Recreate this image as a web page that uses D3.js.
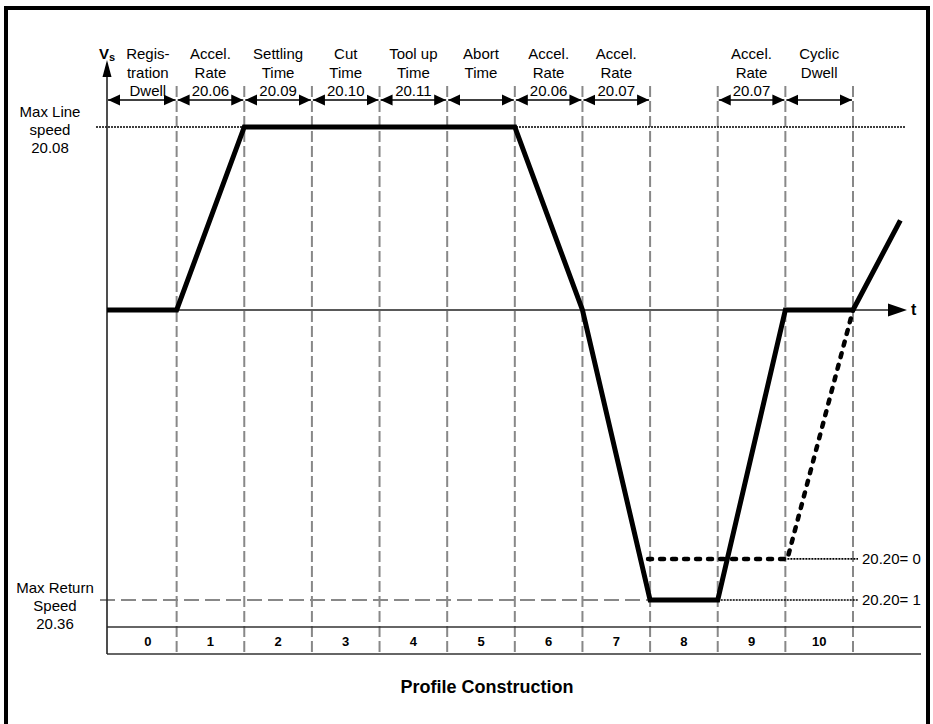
<!DOCTYPE html>
<html>
<head>
<meta charset="utf-8">
<script src="https://cdn.jsdelivr.net/npm/d3@7"></script>
<style>
  body { margin: 0; background: #fff; }
  svg { display: block; font-family: "Liberation Sans", Arial, sans-serif; }
</style>
</head>
<body>
<div id="chart"></div>
<script>
// segments of the profile (time slots 0..10)
var segments = [0, 1, 2, 3, 4, 5, 6, 7, 8, 9, 10];
var segLabels = [
    ["Regis-", "tration", "Dwell"],
    ["Accel.", "Rate", "20.06"],
    ["Settling", "Time", "20.09"],
    ["Cut", "Time", "20.10"],
    ["Tool up", "Time", "20.11"],
    ["Abort", "Time"],
    ["Accel.", "Rate", "20.06"],
    ["Accel.", "Rate", "20.07"],
    [],
    ["Accel.", "Rate", "20.07"],
    ["Cyclic", "Dwell"]
];
var hasArrow = [true, true, true, true, true, true, true, true, false, true, true];

// speed levels (1 = max line speed)
var maxLine = 1, maxReturn = -1.585, level0 = -1.36;
var maxLineLabel = ["Max Line", "speed", "20.08"];
var maxReturnLabel = ["Max Return", "Speed", "20.36"];
var levelLabels = ["20.20= 0", "20.20= 1"];

// speed profile (t in segment units, v in line-speed units)
var profile = [
    {t: 0, v: 0}, {t: 1, v: 0}, {t: 2, v: 1}, {t: 6, v: 1}, {t: 7, v: 0},
    {t: 8, v: -1.585}, {t: 9, v: -1.585}, {t: 10, v: 0}, {t: 11, v: 0}, {t: 11.7, v: 0.49}
];
// alternative path when 20.20 = 0
var altProfile = [{t: 7.97, v: -1.36}, {t: 10.03, v: -1.36}, {t: 11, v: 0}];

var W = 933, H = 724;
var x = d3.scaleLinear().domain([0, 11]).range([109, 853]);
var y = d3.scaleLinear().domain([0, 1]).range([310, 127]);

var svg = d3.select("#chart").append("svg")
    .attr("width", W).attr("height", H);

svg.append("rect").attr("width", W).attr("height", H).attr("fill", "#fff");

// outer frame
svg.append("rect")
    .attr("x", 6).attr("y", 8).attr("width", 922).attr("height", 730)
    .attr("fill", "none").attr("stroke", "#000").attr("stroke-width", 4);

var defs = svg.append("defs");
defs.append("marker")
    .attr("id", "arr")
    .attr("viewBox", "0 -6 12 12")
    .attr("refX", 12).attr("refY", 0)
    .attr("markerUnits", "userSpaceOnUse")
    .attr("markerWidth", 12).attr("markerHeight", 12)
    .attr("orient", "auto-start-reverse")
    .append("path").attr("d", "M0,-5.5L12,0L0,5.5Z").attr("fill", "#000");

var x0 = x(0) - 2;
var tableTop = 627, tableBot = 654;

// grey dashed segment boundaries
svg.append("g").selectAll("line")
    .data(segments.map(function(d) { return d + 1; }))
    .enter().append("line")
    .attr("x1", function(d) { return x(d); }).attr("x2", function(d) { return x(d); })
    .attr("y1", 86).attr("y2", tableBot + 1)
    .attr("stroke", "#888").attr("stroke-width", 2)
    .attr("stroke-dasharray", "11,4");

// max return speed grey dashed level
svg.append("line")
    .attr("x1", 100).attr("x2", x(8))
    .attr("y1", y(maxReturn)).attr("y2", y(maxReturn))
    .attr("stroke", "#888").attr("stroke-width", 2)
    .attr("stroke-dasharray", "15,6");

// dotted leaders
svg.append("line")
    .attr("x1", 96).attr("x2", 905)
    .attr("y1", y(maxLine)).attr("y2", y(maxLine))
    .attr("stroke", "#000").attr("stroke-width", 1.6)
    .attr("stroke-dasharray", "2,1");
svg.append("line")
    .attr("x1", x(9)).attr("x2", 858)
    .attr("y1", y(maxReturn)).attr("y2", y(maxReturn))
    .attr("stroke", "#000").attr("stroke-width", 1.6)
    .attr("stroke-dasharray", "2,1");
svg.append("line")
    .attr("x1", x(10.03)).attr("x2", 858)
    .attr("y1", y(level0)).attr("y2", y(level0))
    .attr("stroke", "#000").attr("stroke-width", 1.6)
    .attr("stroke-dasharray", "2,1");

// table lines
[tableTop, tableBot].forEach(function(ty) {
    svg.append("line")
        .attr("x1", x0).attr("x2", 921).attr("y1", ty).attr("y2", ty)
        .attr("stroke", "#333").attr("stroke-width", 1.6);
});

// vertical axis
svg.append("line")
    .attr("x1", x0).attr("x2", x0).attr("y1", tableBot).attr("y2", 70)
    .attr("stroke", "#222").attr("stroke-width", 1.6);
svg.append("path")
    .attr("d", "M" + x0 + ",60L" + (x0 + 4.5) + ",77L" + (x0 - 4.5) + ",77Z")
    .attr("fill", "#000");
var vs = svg.append("text").attr("x", 99).attr("y", 59)
    .style("font-weight", "bold").style("font-size", "15px");
vs.append("tspan").text("V");
vs.append("tspan").attr("dy", 2).style("font-size", "11px").text("s");

// time axis
svg.append("line")
    .attr("x1", x0).attr("x2", 892).attr("y1", y(0)).attr("y2", y(0))
    .attr("stroke", "#222").attr("stroke-width", 1.6);
svg.append("path")
    .attr("d", "M907," + y(0) + "L888," + (y(0) - 6.5) + "L888," + (y(0) + 6.5) + "Z")
    .attr("fill", "#000");
svg.append("text").attr("x", 911).attr("y", y(0) + 5)
    .style("font-weight", "bold").style("font-size", "16px").text("t");

// double arrows above each segment
svg.append("g").selectAll("line")
    .data(segments.filter(function(d) { return hasArrow[d]; }))
    .enter().append("line")
    .attr("x1", function(d) { return (d === 0 ? x0 : x(d)) + 1; })
    .attr("x2", function(d) { return x(d + 1) - 1; })
    .attr("y1", 100).attr("y2", 100)
    .attr("stroke", "#000").attr("stroke-width", 1.5)
    .attr("marker-start", "url(#arr)").attr("marker-end", "url(#arr)");

// segment labels
var lab = svg.append("g").selectAll("text")
    .data(segments)
    .enter().append("text")
    .attr("text-anchor", "middle")
    .style("font-size", "15px")
    .attr("x", function(d) { return x(d + 0.5) + (d === 0 ? 5 : 0); })
    .attr("y", 59);
lab.selectAll("tspan")
    .data(function(d) { return segLabels[d]; })
    .enter().append("tspan")
    .attr("x", function() { return d3.select(this.parentNode).attr("x"); })
    .attr("dy", function(d, i) { return i === 0 ? 0 : 18.5; })
    .text(function(d) { return d; });

// table numbers
svg.append("g").selectAll("text")
    .data(segments)
    .enter().append("text")
    .attr("text-anchor", "middle")
    .attr("x", function(d) { return x(d + 0.5) + (d === 0 ? 5 : 0); })
    .attr("y", 645.5)
    .style("font-weight", "bold").style("font-size", "13px")
    .text(function(d) { return d; });

// left level labels
function stack(lines, cx, yTop) {
    var t = svg.append("text").attr("text-anchor", "middle").style("font-size", "15px");
    lines.forEach(function(s, i) {
        t.append("tspan").attr("x", cx).attr("y", yTop + i * 18).text(s);
    });
}
stack(maxLineLabel, 50, y(maxLine) - 10);
stack(maxReturnLabel, 55, y(maxReturn) - 7);

// right level labels
svg.append("g").selectAll("text")
    .data([level0, maxReturn])
    .enter().append("text")
    .attr("x", 862)
    .attr("y", function(d) { return y(d) + 5; })
    .style("font-size", "15px")
    .text(function(d, i) { return levelLabels[i]; });

var line = d3.line()
    .x(function(d) { return x(d.t); })
    .y(function(d) { return y(d.v); });

// alternative (dashed) path
svg.append("path")
    .datum(altProfile)
    .attr("d", line)
    .attr("fill", "none").attr("stroke", "#000").attr("stroke-width", 4.5)
    .attr("stroke-linecap", "round")
    .attr("stroke-dasharray", "4,8");

// main profile
svg.append("path")
    .datum(profile)
    .attr("d", line.x(function(d) { return d.t === 0 ? x0 : x(d.t); }))
    .attr("fill", "none").attr("stroke", "#000").attr("stroke-width", 5)
    .attr("stroke-linejoin", "miter");

// title
svg.append("text")
    .attr("x", 487).attr("y", 693)
    .attr("text-anchor", "middle")
    .style("font-weight", "bold").style("font-size", "18px")
    .text("Profile Construction");
</script>
</body>
</html>
